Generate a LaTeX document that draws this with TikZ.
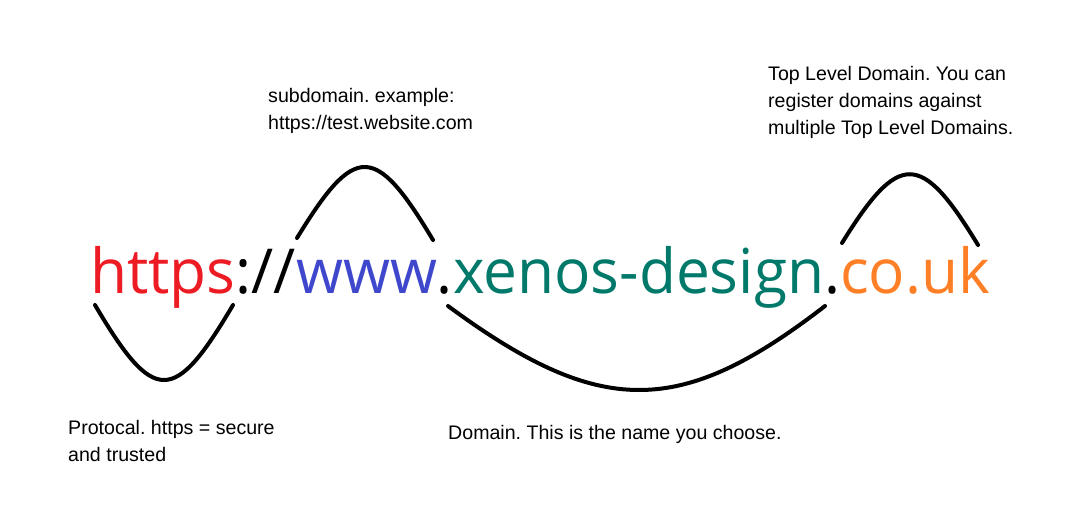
\documentclass[tikz,border=0pt]{standalone}
\usepackage{fontspec}
\setmainfont{Liberation Sans}
\newfontfamily\urlfont{Open Sans}
\definecolor{httpsred}{HTML}{ED1C24}
\definecolor{wwwblue}{HTML}{3F48CC}
\definecolor{domteal}{HTML}{00796A}
\definecolor{tldorange}{HTML}{FF7F27}
\frenchspacing

\begin{document}
\begin{tikzpicture}[x=1pt,y=-1pt]
			\tikzset{
			  LabelStyle/.style = { anchor = north west, inner sep = 0pt, align = left,
			                        font = \fontsize{19.6}{27}\selectfont },
			  UrlStyle/.style = { anchor = base west, inner sep = 0pt,
			                      font = \urlfont\fontsize{62}{70}\selectfont },
			  CurveStyle/.style = { line width = 4pt, line cap = round } }
			\useasboundingbox (0,0) rectangle (1090,530);
			\node[UrlStyle] (url) at (90,293) {\resizebox{900pt}{\height}{\textcolor{httpsred}{https}://\textcolor{wwwblue}{www}.\textcolor{domteal}{xenos-design}.\textcolor{tldorange}{co.uk}}};
			% the four labels
			\node[LabelStyle] (protocol) at (68,420) {Protocal. https = secure\\and trusted};
			\node[LabelStyle] (subdomain) at (268,88) {subdomain. example:\\https://test.website.com};
			\node[LabelStyle] (domain) at (448,425) {Domain. This is the name you choose.};
			\node[LabelStyle] (tld) at (768,66) {Top Level Domain. You can\\register domains against\\multiple Top Level Domains.};
			% ends of the curves
			\coordinate (p1) at (95,305);  \coordinate (p2) at (233,305);
			\coordinate (s1) at (297,238); \coordinate (s2) at (433,240);
			\coordinate (d1) at (448,306); \coordinate (d2) at (825,306);
			\coordinate (t1) at (842,243); \coordinate (t2) at (978,245);
			\draw[CurveStyle] (p1) .. controls (154,405) and (174,405) .. (p2);
			\draw[CurveStyle] (s1) .. controls (355,143) and (375,143) .. (s2);
			\draw[CurveStyle] (d1) .. controls (600,418) and (680,418) .. (d2);
			\draw[CurveStyle] (t1) .. controls (899,151) and (921,151) .. (t2);
		\end{tikzpicture}
\end{document}
